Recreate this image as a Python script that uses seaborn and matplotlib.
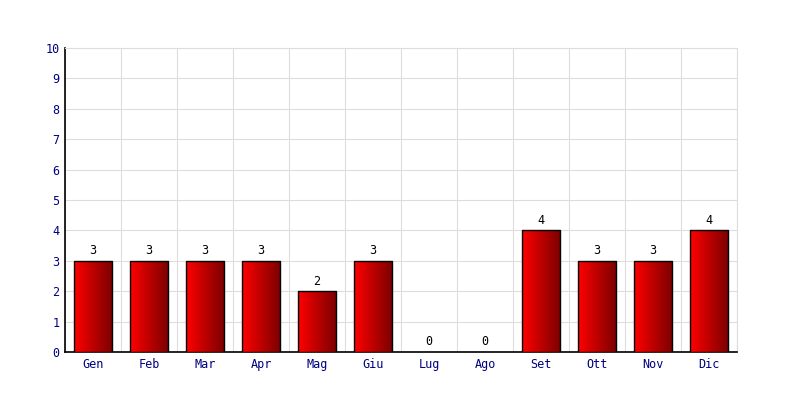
import numpy as np
import pandas as pd
import matplotlib
matplotlib.use("Agg")
import matplotlib.pyplot as plt
import seaborn as sns

# dati mensili
mesi = ["Gen", "Feb", "Mar", "Apr", "Mag", "Giu", "Lug", "Ago", "Set", "Ott", "Nov", "Dic"]
valori = [3, 3, 3, 3, 2, 3, 0, 0, 4, 3, 3, 4]
y_ticks = list(range(0, 11))

df = pd.DataFrame({"mese": mesi, "valore": valori})

sns.set_style("white")
plt.rcParams["font.family"] = ["DejaVu Sans Mono", "DejaVu Sans"]

fig = plt.figure(figsize=(8, 4), dpi=100)
ax = fig.add_axes([0.08125, 0.12, 0.84, 0.76])

sns.barplot(data=df, x="mese", y="valore", color="#cc0000", width=0.68,
            edgecolor="black", linewidth=1.0, ax=ax, zorder=3)

# gradiente rosso -> rosso scuro su ogni barra
grad = np.linspace(0, 1, 256).reshape(1, -1)
cmap = matplotlib.colors.LinearSegmentedColormap.from_list("rosso", ["#ff0000", "#7a0000"])
for p in ax.patches:
    x0, y0 = p.get_x(), p.get_y()
    w, h = p.get_width(), p.get_height()
    if h <= 0:
        p.set_visible(False)
        continue
    im = ax.imshow(grad, cmap=cmap, aspect="auto", extent=[x0, x0 + w, y0, y0 + h],
                   zorder=3.5, interpolation="bilinear")
    im.set_clip_path(p)
    p.set_facecolor("none")
    p.set_zorder(4)

for i, v in enumerate(valori):
    ax.text(i, v + 0.12, str(v), ha="center", va="bottom", fontsize=8.5, color="black", zorder=5)

ax.set_xlim(-0.5, len(mesi) - 0.5)
ax.set_ylim(0, 10)
ax.set_yticks(y_ticks)
ax.set_xticks(range(len(mesi)))
ax.set_xticklabels(mesi)
ax.tick_params(axis="both", length=0, labelsize=8.5, labelcolor="#000080", pad=4)

ax.set_xticks(np.arange(-0.5, len(mesi), 1), minor=True)
ax.grid(False)
ax.grid(which="minor", axis="x", color="#dddddd", linewidth=0.8, zorder=0)
ax.grid(which="major", axis="y", color="#dddddd", linewidth=0.8, zorder=0)
ax.tick_params(which="minor", length=0)

ax.set_xlabel("")
ax.set_ylabel("")
for s in ["top", "right"]:
    ax.spines[s].set_color("#dddddd")
    ax.spines[s].set_linewidth(0.8)
for s in ["left", "bottom"]:
    ax.spines[s].set_color("black")
    ax.spines[s].set_linewidth(1.2)
ax.set_axisbelow(True)

fig.savefig("out.png", dpi=100, facecolor="white")
